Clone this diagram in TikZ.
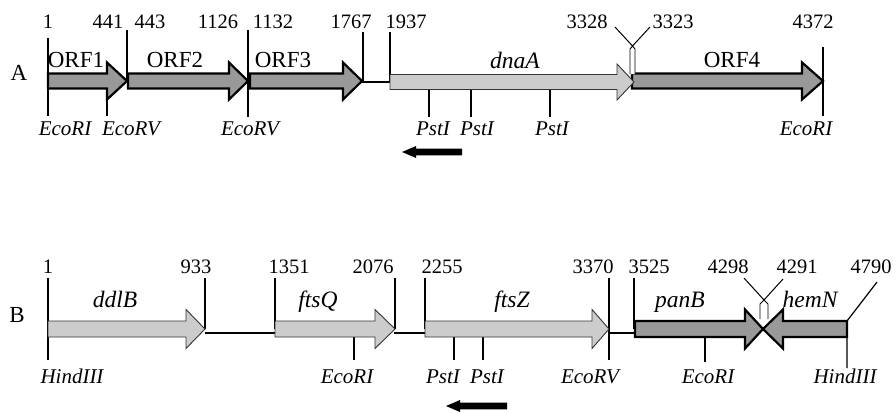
\documentclass[tikz,border=0pt]{standalone}
\usepackage{fontspec}
\setmainfont{Liberation Serif}
\newcommand{\genearr}[7]{% style, x0, xhead, xtip, yc, h, H
  \draw[#1] (#2,{#5-#6}) -- (#3,{#5-#6}) -- (#3,{#5-#7}) -- (#4,#5) -- (#3,{#5+#7}) -- (#3,{#5+#6}) -- (#2,{#5+#6}) -- cycle;}
\begin{document}
\begin{tikzpicture}[x=1pt,y=-1pt,
  num/.style={font=\fontsize{20.5}{22}\selectfont, inner sep=0pt, anchor=base},
  orf/.style={font=\fontsize{23}{24}\selectfont, inner sep=0pt, anchor=base},
  gene/.style={font=\fontsize{23.5}{24}\selectfont\itshape, inner sep=0pt, anchor=base},
  enz/.style={font=\fontsize{21}{22}\selectfont\itshape, inner sep=0pt, anchor=base},
  panel/.style={font=\fontsize{23}{24}\selectfont, inner sep=0pt, anchor=base},
  tick/.style={line width=1.2pt},
  link/.style={line width=2pt},
  darkgene/.style={fill=black!40, draw=black, line width=2.2pt, line join=miter},
  lightgene/.style={fill=black!20, draw=black!80, line width=0.9pt, line join=miter},
  overlap/.style={fill=white, draw=black, line width=0.9pt},
  dirarrow/.style={fill=black, draw=none}]
\useasboundingbox (0,0) rectangle (896,412);

% ================= Panel A =================
\node[panel] (pA) at (19,80) {A};
% ticks
\coordinate (a1t) at (48,38);   \coordinate (a1b) at (48,116);
\draw[tick] (a1t) -- (a1b);
\coordinate (a441t) at (127,30); \coordinate (a441b) at (127,81);
\draw[tick] (a441t) -- (a441b);
\coordinate (aRVt) at (107,81); \coordinate (aRVb) at (107,116);
\draw[tick] (aRVt) -- (aRVb);
\coordinate (a1126t) at (248,30); \coordinate (a1126b) at (248,117);
\draw[tick] (a1126t) -- (a1126b);
\coordinate (a1767t) at (363,32); \coordinate (a1767b) at (363,81);
\draw[tick] (a1767t) -- (a1767b);
\coordinate (a1937t) at (390,32); \coordinate (a1937b) at (390,81);
\draw[tick] (a1937t) -- (a1937b);
\foreach \px [count=\i] in {429,471,550}{
  \coordinate (aP\i t) at (\px,89); \coordinate (aP\i b) at (\px,117);
  \draw[tick] (aP\i t) -- (aP\i b);}
\coordinate (a4372t) at (823,47); \coordinate (a4372b) at (823,116);
\draw[tick] (a4372t) -- (a4372b);
% link
\coordinate (aL1) at (362,82); \coordinate (aL2) at (391,82);
\draw[link] (aL1) -- (aL2);
% arrows
\genearr{darkgene}{48}{107}{127}{81}{7.5}{18.5}
\genearr{darkgene}{128}{229}{248}{81}{7.5}{18.5}
\genearr{darkgene}{250}{343}{362}{81}{7.5}{18.5}
\genearr{darkgene}{632}{802}{823}{81}{7.5}{18.5}
\genearr{lightgene}{390}{617}{634}{82}{7.5}{18}
% overlap marker
\draw[overlap] (630,74) -- (630,49) -- (632.5,46) -- (635,49) -- (635,74);
\coordinate (aOL) at (615,27); \coordinate (aOM) at (632.5,46); \coordinate (aOR) at (650,27);
\draw[line width=1pt] (aOL) -- (aOM) -- (aOR);
% numbers
\node[num] (nA1) at (48,29) {1};
\node[num] (nA441) at (108,29) {441};
\node[num] (nA443) at (150,29) {443};
\node[num] (nA1126) at (218,29) {1126};
\node[num] (nA1132) at (273,29) {1132};
\node[num] (nA1767) at (351,29) {1767};
\node[num] (nA1937) at (406,29) {1937};
\node[num] (nA3328) at (587,29) {3328};
\node[num] (nA3323) at (673,29) {3323};
\node[num] (nA4372) at (813,29) {4372};
% gene labels
\node[orf] (gORF1) at (76,67) {ORF1};
\node[orf] (gORF2) at (175,67) {ORF2};
\node[orf] (gORF3) at (283,67) {ORF3};
\node[gene] (gdnaA) at (515,68) {dnaA};
\node[orf] (gORF4) at (732,67) {ORF4};
% enzyme labels
\node[enz] (eA1) at (65,135) {EcoRI};
\node[enz] (eA2) at (131,135) {EcoRV};
\node[enz] (eA3) at (250,135) {EcoRV};
\node[enz] (eA4) at (433,135) {PstI};
\node[enz] (eA5) at (477,135) {PstI};
\node[enz] (eA6) at (552,135) {PstI};
\node[enz] (eA7) at (806,135) {EcoRI};
% direction arrow
\draw[dirarrow] (402,152) -- (416,146) -- (416,148.7) -- (462,148.7) -- (462,155.3) -- (416,155.3) -- (416,158) -- cycle;

% ================= Panel B =================
\node[panel] (pB) at (17,322) {B};
\coordinate (b1t) at (48,278); \coordinate (b1b) at (48,360);
\draw[tick] (b1t) -- (b1b);
\coordinate (b933t) at (205,278); \coordinate (b933b) at (205,329);
\draw[tick] (b933t) -- (b933b);
\coordinate (b1351t) at (275,278); \coordinate (b1351b) at (275,329);
\draw[tick] (b1351t) -- (b1351b);
\coordinate (b2076t) at (395,278); \coordinate (b2076b) at (395,329);
\draw[tick] (b2076t) -- (b2076b);
\coordinate (b2255t) at (425,278); \coordinate (b2255b) at (425,329);
\draw[tick] (b2255t) -- (b2255b);
\coordinate (b3370t) at (609,278); \coordinate (b3370b) at (609,360);
\draw[tick] (b3370t) -- (b3370b);
\coordinate (b3525t) at (634,278); \coordinate (b3525b) at (634,329);
\draw[tick] (b3525t) -- (b3525b);
\coordinate (bQt) at (354,337); \coordinate (bQb) at (354,360);
\draw[tick] (bQt) -- (bQb);
\foreach \px [count=\i] in {454,483}{
  \coordinate (bP\i t) at (\px,337); \coordinate (bP\i b) at (\px,360);
  \draw[tick] (bP\i t) -- (bP\i b);}
\coordinate (bRIt) at (705,337); \coordinate (bRIb) at (705,362);
\draw[tick] (bRIt) -- (bRIb);
\coordinate (b4790a) at (877,282); \coordinate (b4790m) at (847,321); \coordinate (b4790b) at (847,368);
\draw[tick] (b4790a) -- (b4790m) -- (b4790b);
% links
\coordinate (bL1) at (205,333); \coordinate (bL2) at (276,333);
\draw[link] (bL1) -- (bL2);
\coordinate (bL3) at (394,333); \coordinate (bL4) at (426,333);
\draw[link] (bL3) -- (bL4);
\coordinate (bL5) at (608,333); \coordinate (bL6) at (636,333);
\draw[link] (bL5) -- (bL6);
% arrows
\genearr{lightgene}{48}{186}{205}{329}{8}{19.5}
\genearr{lightgene}{275}{375}{395}{329}{8}{19.5}
\genearr{lightgene}{425}{592}{609}{329}{8}{19.5}
\genearr{darkgene}{635}{745}{763}{329}{8}{19.5}
\genearr{darkgene}{847}{783}{763}{329}{8}{19.5}
% overlap marker
\draw[overlap] (760,319) -- (760,304) -- (764,300) -- (768,304) -- (768,319);
\coordinate (bOL) at (744,278); \coordinate (bOM) at (764,300); \coordinate (bOR) at (783,279);
\draw[line width=1pt] (bOL) -- (bOM) -- (bOR);
% numbers
\node[num] (nB1) at (48,273) {1};
\node[num] (nB933) at (196,273) {933};
\node[num] (nB1351) at (289,273) {1351};
\node[num] (nB2076) at (373,273) {2076};
\node[num] (nB2255) at (442,273) {2255};
\node[num] (nB3370) at (593,273) {3370};
\node[num] (nB3525) at (649,273) {3525};
\node[num] (nB4298) at (728,273) {4298};
\node[num] (nB4291) at (797,273) {4291};
\node[num] (nB4790) at (871,273) {4790};
% gene labels
\node[gene] (gddlB) at (115,307) {ddlB};
\node[gene] (gftsQ) at (318,307) {ftsQ};
\node[gene] (gftsZ) at (512,307) {ftsZ};
\node[gene] (gpanB) at (680,307) {panB};
\node[gene] (ghemN) at (810,307) {hemN};
% enzyme labels
\node[enz] (eB1) at (72,383) {HindIII};
\node[enz] (eB2) at (347,383) {EcoRI};
\node[enz] (eB3) at (443,383) {PstI};
\node[enz] (eB4) at (487,383) {PstI};
\node[enz] (eB5) at (590,383) {EcoRV};
\node[enz] (eB6) at (708,383) {EcoRI};
\node[enz] (eB7) at (845,383) {HindIII};
% direction arrow
\draw[dirarrow] (446,406) -- (460,400) -- (460,402.7) -- (507,402.7) -- (507,409.3) -- (460,409.3) -- (460,412) -- cycle;
\end{tikzpicture}
\end{document}
